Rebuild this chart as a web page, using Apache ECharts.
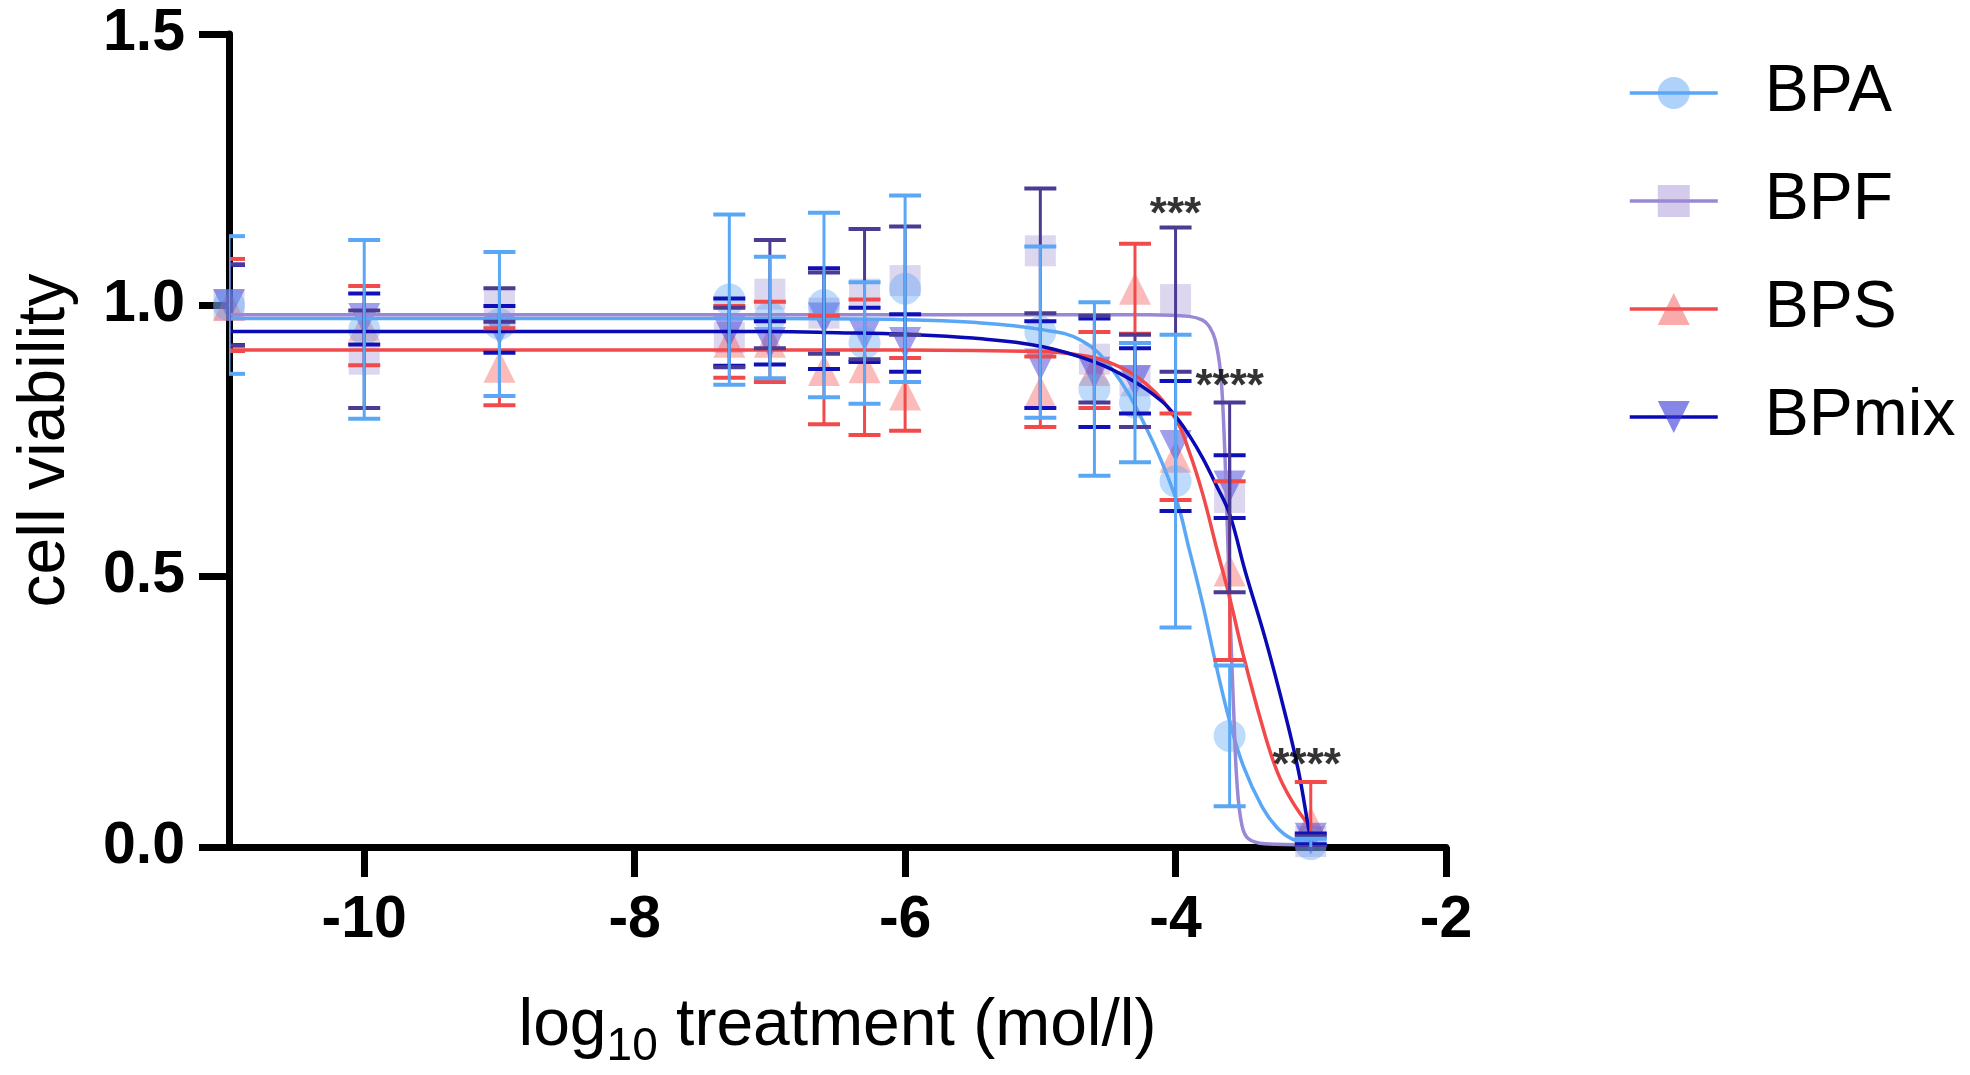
<!DOCTYPE html>
<html><head><meta charset="utf-8">
<script src="https://cdn.jsdelivr.net/npm/echarts@6/dist/echarts.min.js"></script>
<style>html,body{margin:0;padding:0;background:#fff}#chart{width:1970px;height:1075px}</style>
</head><body><div id="chart"></div>
<script>
// ---- data ----
const doseLog = [-11, -10, -9, -7.3, -7, -6.6, -6.3, -6, -5, -4.6, -4.3, -4, -3.6, -3];

const bpaMean = [1.0, 0.955, 0.965, 1.01, 0.977, 1.0, 0.93, 1.03, 0.95, 0.845, 0.82, 0.675, 0.205, 0.005];
const bpaSD   = [0.127, 0.165, 0.133, 0.157, 0.112, 0.17, 0.112, 0.172, 0.158, 0.16, 0.11, 0.27, 0.13, 0.01];

const bpfMean = [1.0, 0.9, 1.0, 0.94, 1.02, 0.985, 1.02, 1.045, 1.1, 0.9, 0.86, 1.01, 0.645, 0.01];
const bpfSD   = [0.075, 0.09, 0.031, 0.055, 0.1, 0.075, 0.12, 0.1, 0.115, 0.08, 0.085, 0.133, 0.175, 0.01];

const bpsMean = [1.0, 0.962, 0.886, 0.932, 0.932, 0.88, 0.885, 0.835, 0.84, 0.88, 1.03, 0.72, 0.51, 0.045];
const bpsSD   = [0.085, 0.073, 0.071, 0.066, 0.074, 0.1, 0.125, 0.067, 0.065, 0.07, 0.083, 0.08, 0.165, 0.075];

const mixMean = [1.0, 0.974, 0.955, 0.95, 0.93, 0.975, 0.945, 0.93, 0.89, 0.875, 0.86, 0.74, 0.665, 0.015];
const mixSD   = [0.074, 0.047, 0.043, 0.062, 0.04, 0.093, 0.05, 0.053, 0.08, 0.1, 0.06, 0.12, 0.058, 0.01];

// fitted curves
const bpaCurve = [[-11, 0.975], [-8, 0.975], [-7, 0.975], [-6, 0.973], [-5.5, 0.968], [-5, 0.955], [-4.7, 0.935], [-4.47, 0.882], [-4.22, 0.775], [-4.0, 0.645], [-3.9, 0.55], [-3.8, 0.449], [-3.7, 0.335], [-3.6, 0.232], [-3.5, 0.15], [-3.36, 0.074], [-3.25, 0.036], [-3.14, 0.015], [-3.0, 0.005]];
const bpfCurve = [[-11, 0.982], [-8, 0.982], [-5, 0.982], [-4.2, 0.982], [-3.9, 0.979], [-3.8, 0.972], [-3.75, 0.96], [-3.706, 0.935], [-3.668, 0.877], [-3.644, 0.779], [-3.62, 0.614], [-3.595, 0.417], [-3.57, 0.251], [-3.546, 0.119], [-3.509, 0.04], [-3.46, 0.015], [-3.34, 0.006], [-3.0, 0.004]];
const bpsCurve = [[-11, 0.917], [-8, 0.917], [-6, 0.917], [-5, 0.914], [-4.75, 0.909], [-4.5, 0.895], [-4.22, 0.855], [-4.0, 0.79], [-3.9, 0.73], [-3.8, 0.652], [-3.7, 0.555], [-3.6, 0.46], [-3.5, 0.355], [-3.36, 0.225], [-3.25, 0.14], [-3.14, 0.085], [-3.0, 0.035]];
const mixCurve = [[-11, 0.951], [-8, 0.951], [-7, 0.951], [-6.5, 0.949], [-6, 0.946], [-5.5, 0.939], [-5, 0.924], [-4.6, 0.895], [-4.3, 0.858], [-4.1, 0.822], [-4.0, 0.795], [-3.9, 0.76], [-3.8, 0.718], [-3.7, 0.668], [-3.6, 0.614], [-3.484, 0.508], [-3.336, 0.384], [-3.189, 0.245], [-3.09, 0.139], [-3.016, 0.034], [-3.0, 0.015]];

const xTickValues = [-10, -8, -6, -4, -2];
const yTickValues = [0, 0.5, 1.0, 1.5];
const seriesNames = ['BPA', 'BPF', 'BPS', 'BPmix'];
const annotations = [[-4.0, 1.165, '***'], [-3.6, 0.848, '****'], [-3.03, 0.148, '****']];

// ---- styles ----
const FONT = 'Liberation Sans, Arial, sans-serif';
const styles = {
  BPA:   { line: '#5aa7f6', err: '#5aa7f6', fill: 'rgba(95,165,245,0.5)',  symbol: 'circle',   rot: 0,   size: 32, z: 5 },
  BPF:   { line: '#9a88d6', err: '#4b3b92', fill: 'rgba(160,140,212,0.45)', symbol: 'rect',     rot: 0,   size: 31, z: 2 },
  BPS:   { line: '#f24a4a', err: '#f24a4a', fill: 'rgba(245,85,85,0.5)',    symbol: 'triangle', rot: 0,   size: 32, z: 3 },
  BPmix: { line: '#0a0ab4', err: '#1010b8', fill: 'rgba(60,60,215,0.62)',   symbol: 'triangle', rot: 180, size: 32, z: 4 }
};
const means = { BPA: bpaMean, BPF: bpfMean, BPS: bpsMean, BPmix: mixMean };
const sds = { BPA: bpaSD, BPF: bpfSD, BPS: bpsSD, BPmix: mixSD };
const curves = { BPA: bpaCurve, BPF: bpfCurve, BPS: bpsCurve, BPmix: mixCurve };

const series = [];
// curves first (also provide legend icons)
seriesNames.forEach(n => {
  const s = styles[n];
  series.push({
    name: n, type: 'line', data: curves[n], smooth: 0.4,
    showSymbol: false, symbol: s.symbol, symbolRotate: s.rot, symbolSize: s.size,
    itemStyle: { color: s.fill }, lineStyle: { color: s.line, width: 3.5 },
    z: 20, silent: true
  });
});
// markers
seriesNames.forEach(n => {
  const s = styles[n];
  series.push({
    name: n, type: 'scatter', data: doseLog.map((x, i) => [x, means[n][i]]),
    symbol: s.symbol, symbolRotate: s.rot, symbolSize: s.size,
    itemStyle: { color: s.fill }, z: 10 + s.z, silent: true
  });
});
// error bars
const errOrder = ['BPS', 'BPmix', 'BPF', 'BPA'];
errOrder.forEach((n, k) => {
  const s = styles[n];
  series.push({
    name: n, type: 'custom', clip: true, silent: true, z: 30 + k,
    data: doseLog.map((x, i) => [x, means[n][i] - sds[n][i], means[n][i] + sds[n][i]]),
    encode: { x: 0, y: [1, 2] },
    renderItem: (params, api) => {
      const x = api.value(0);
      const lo = api.coord([x, api.value(1)]);
      const hi = api.coord([x, api.value(2)]);
      const h = 16;
      return {
        type: 'group', children: [
          { type: 'line', shape: { x1: lo[0], y1: lo[1], x2: hi[0], y2: hi[1] }, style: { stroke: s.err, lineWidth: 3 } },
          { type: 'line', shape: { x1: hi[0] - h, y1: hi[1], x2: hi[0] + h, y2: hi[1] }, style: { stroke: s.err, lineWidth: 4 } },
          { type: 'line', shape: { x1: lo[0] - h, y1: lo[1], x2: lo[0] + h, y2: lo[1] }, style: { stroke: s.err, lineWidth: 4 } }
        ]
      };
    }
  });
});
// significance labels
series.push({
  name: 'sig', type: 'scatter', silent: true, z: 40,
  data: annotations.map(a => [a[0], a[1], a[2]]),
  symbolSize: 1, itemStyle: { color: 'rgba(0,0,0,0)' },
  label: { show: true, position: 'inside', formatter: p => p.value[2], color: '#000', fontFamily: FONT, fontWeight: 'bold', fontSize: 44 }
});

const chart = echarts.init(document.getElementById('chart'), null, { renderer: 'canvas' });
chart.setOption({
  backgroundColor: '#fff',
  animation: false,
  grid: { left: 229, right: 524, top: 34, bottom: 228, containLabel: false, outerBoundsMode: 'none' },
  xAxis: {
    type: 'value', min: -11, max: -2,
    axisLine: { show: true, onZero: false, lineStyle: { color: '#000', width: 7 } },
    axisTick: { show: true, customValues: xTickValues, length: 30, inside: false, lineStyle: { color: '#000', width: 7 } },
    axisLabel: { show: true, customValues: xTickValues, margin: 44, color: '#000', fontFamily: FONT, fontWeight: 'bold', fontSize: 59 },
    splitLine: { show: false },
    name: '{a|log}{s|10}{a| treatment (mol/l)}',
    nameLocation: 'middle', nameGap: 147,
    nameTextStyle: {
      color: '#000', fontFamily: FONT,
      rich: {
        a: { fontSize: 66, fontFamily: FONT, color: '#000', lineHeight: 76, verticalAlign: 'top' },
        s: { fontSize: 46, fontFamily: FONT, color: '#000', lineHeight: 46, verticalAlign: 'bottom' }
      }
    }
  },
  yAxis: {
    type: 'value', min: 0, max: 1.5, interval: 0.5,
    axisLine: { show: true, onZero: false, lineStyle: { color: '#000', width: 7 } },
    axisTick: { show: true, length: 30, lineStyle: { color: '#000', width: 7 } },
    axisLabel: { show: true, customValues: yTickValues, margin: 44, color: '#000', fontFamily: FONT, fontWeight: 'bold', fontSize: 59, formatter: v => v.toFixed(1) },
    splitLine: { show: false },
    name: 'cell viability', nameLocation: 'middle', nameGap: 150, nameRotate: 90,
    nameTextStyle: { color: '#000', fontFamily: FONT, fontSize: 66 }
  },
  legend: {
    data: seriesNames, orient: 'vertical', left: 1623, top: 55,
    itemWidth: 88, itemHeight: 40, itemGap: 42,
    selectedMode: false,
    lineStyle: { width: 3.5 },
    itemStyle: { borderWidth: 0 },
    textStyle: { color: '#000', fontFamily: FONT, fontSize: 66, padding: [0, 0, 0, 42] }
  },
  series: series
});
</script>
</body></html>
